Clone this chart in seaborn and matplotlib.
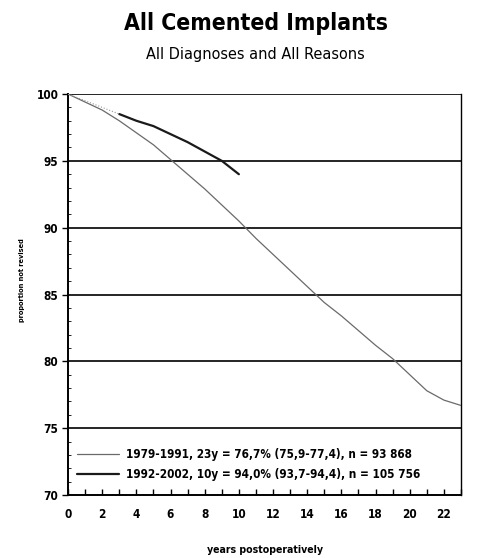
import matplotlib
matplotlib.use("Agg")
import matplotlib.pyplot as plt
from matplotlib import font_manager
import seaborn as sns
import pandas as pd
from matplotlib.ticker import MultipleLocator

years_old = [0, 1, 2, 3, 4, 5, 6, 7, 8, 9, 10, 11, 12, 13, 14, 15, 16, 17, 18, 19, 20, 21, 22, 23]
surv_old = [100, 99.4, 98.8, 98.0, 97.1, 96.2, 95.1, 94.0, 92.9, 91.7, 90.5, 89.2, 88.0,
            86.8, 85.6, 84.4, 83.4, 82.3, 81.2, 80.2, 79.0, 77.8, 77.1, 76.7]
years_new = [0, 1, 2, 3, 4, 5, 6, 7, 8, 9, 10]
surv_new = [100, 99.5, 99.0, 98.5, 98.0, 97.6, 97.0, 96.4, 95.7, 95.0, 94.0]

label_old = "1979-1991, 23y = 76,7% (75,9-77,4), n = 93 868"
label_new = "1992-2002, 10y = 94,0% (93,7-94,4), n = 105 756"
title = "All Cemented Implants"
subtitle = "All Diagnoses and All Reasons"
xlabel = "years postoperatively"
ylabel = "proportion not revised"
y_ticks = [70, 75, 80, 85, 90, 95, 100]
x_ticks = list(range(0, 23, 2))

sns.set_style("ticks")

# pick a narrow font if one is installed
avail = {(f.name, f.stretch) for f in font_manager.fontManager.ttflist}
names = {n for n, _ in avail}
stretch = "normal"
if "Liberation Sans Narrow" in names:
    fam = ["Liberation Sans Narrow", "DejaVu Sans"]
elif any(n == "DejaVu Sans" and s in ("condensed", "semi-condensed") for n, s in avail):
    fam = ["DejaVu Sans"]
    stretch = "condensed"
else:
    fam = ["DejaVu Sans"]
plt.rcParams['font.family'] = fam
plt.rcParams['font.stretch'] = stretch
for key in ["text.color", "axes.labelcolor", "xtick.color", "ytick.color"]:
    plt.rcParams[key] = "black"

df_old = pd.DataFrame({"x": years_old, "y": surv_old})
df_new = pd.DataFrame({"x": years_new, "y": surv_new})
df_new_early = df_new[df_new["x"] <= 3]
df_new_late = df_new[df_new["x"] >= 3]

fig = plt.figure(figsize=(4.78, 5.58), dpi=100)
ax = fig.add_axes([0.1423, 0.1129, 0.9644 - 0.1423, 0.8315 - 0.1129])

for yv in y_ticks[1:]:
    ax.axhline(yv, color="black", lw=1.2, zorder=1)

sns.lineplot(data=df_old, x="x", y="y", ax=ax, color="#6a6a6a", lw=0.9, label=label_old, zorder=3)
sns.lineplot(data=df_new_late, x="x", y="y", ax=ax, color="#1a1a1a", lw=1.6, label=label_new, zorder=3)
sns.lineplot(data=df_new_early, x="x", y="y", ax=ax, color="#999999", lw=0.8, ls=":", zorder=3,
             legend=False)

ax.set_xlim(0, 23)
ax.set_ylim(70, 100)
ax.set_yticks(y_ticks)
ax.set_xticks(x_ticks)
ax.xaxis.set_minor_locator(MultipleLocator(1))
ax.yaxis.set_minor_locator(MultipleLocator(1))
ax.tick_params(axis="x", which="both", direction="in", length=4, width=1, labelsize=8.5, pad=9)
ax.tick_params(axis="y", which="major", direction="out", length=4, width=1, labelsize=8.5, pad=3)
ax.tick_params(axis="y", which="minor", direction="in", length=2, width=0.6)
for lab in ax.get_xticklabels() + ax.get_yticklabels():
    lab.set_fontweight("bold")

for s in ["left", "bottom", "right"]:
    ax.spines[s].set_visible(True)
    ax.spines[s].set_linewidth(1.4)
    ax.spines[s].set_color("black")
ax.spines["right"].set_linewidth(1.0)
ax.spines["top"].set_visible(False)

ax.set_xlabel(xlabel, fontsize=8, fontweight="bold")
ax.set_ylabel(ylabel, fontsize=8, fontweight="bold")
ax.xaxis.set_label_coords(0.5, -0.125)
ax.yaxis.set_label_coords(-0.11, 0.537)

leg = ax.legend(loc="lower left", bbox_to_anchor=(0.0, 0.012), frameon=False, fontsize=9,
                handlelength=3.4, handletextpad=0.5, labelspacing=0.6, borderaxespad=0.3)
for t in leg.get_texts():
    t.set_fontweight("bold")

t_title = fig.text(0.535, 0.958, title, ha="center", va="center", fontsize=16, fontweight="bold")
t_sub = fig.text(0.535, 0.903, subtitle, ha="center", va="center", fontsize=10)

# fit text sizes to the reference layout
fig.canvas.draw()
r = fig.canvas.get_renderer()

def fit(t, target, along="width"):
    bb = t.get_window_extent(r)
    w = bb.width if along == "width" else bb.height
    t.set_fontsize(t.get_fontsize() * target / w)

fit(t_title, 265)
fit(t_sub, 218)
fit(leg.get_texts()[0], 285)
fit(leg.get_texts()[1], 297)
fit(ax.xaxis.label, 116)
fit(ax.yaxis.label, 84, along="height")

fig.savefig("out.png", dpi=100)
